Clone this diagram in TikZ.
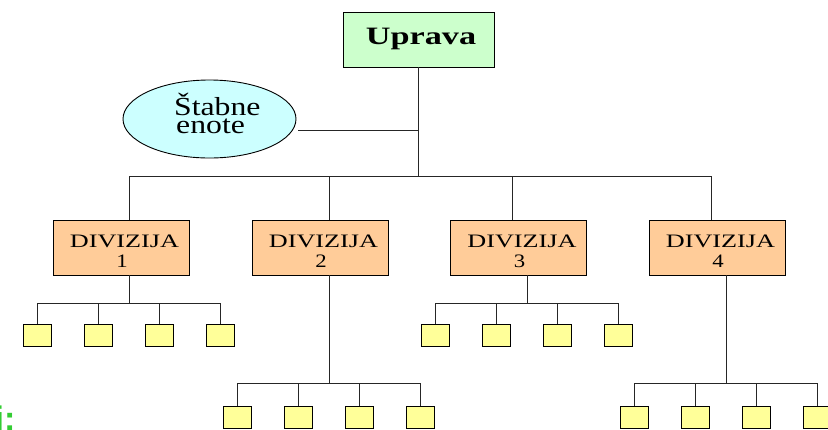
\documentclass[tikz,border=0pt]{standalone}
\usepackage{fontspec}
\usepackage{graphicx}
\setmainfont{Liberation Serif}
\newfontfamily\labelsans{Liberation Sans}
\usetikzlibrary{shapes.geometric}
\definecolor{headfill}{HTML}{CCFFCC}
\definecolor{stafffill}{HTML}{CCFFFF}
\definecolor{divfill}{HTML}{FFCC99}
\definecolor{unitfill}{HTML}{FFFF99}
\definecolor{notegreen}{HTML}{33CC33}

\begin{document}
\begin{tikzpicture}[x=1pt,y=-1pt,
  box/.style={draw=black, line width=0.9pt, inner sep=0pt},
  headbox/.style={box, fill=headfill, minimum width=151pt, minimum height=55pt},
  divbox/.style={box, fill=divfill, minimum width=136pt, minimum height=55pt},
  unit/.style={box, fill=unitfill, minimum width=28pt, minimum height=22pt},
  staff/.style={ellipse, draw=black, line width=0.9pt, fill=stafffill,
    minimum width=173pt, minimum height=78pt, inner sep=0pt},
  txt/.style={inner sep=0pt, anchor=base},
  link/.style={draw=black!85, line width=1pt}]
\useasboundingbox (0,0) rectangle (828,429);
\clip (0,0) rectangle (828,429);

% management
\node[headbox] (upr) at (418.5,39.5) {};
\node[txt] (uprt) at (421,44) {\fontsize{25}{30}\selectfont\bfseries\scalebox{1.37}[1]{Uprava}};

% staff units (two tightly set lines in one box)
\node[staff] (sta) at (209.5,119) {};
\node[txt, anchor=base west] (stt) at (174,115) {\fontsize{26}{18}\selectfont
  \vtop{\hbox{\scalebox{1.22}[1]{Štabne}}\hbox{\kern2pt\scalebox{1.22}[1]{enote}}}};

% divisions
\foreach \i/\cx in {1/121,2/320,3/518.5,4/717}{
  \node[divbox] (d\i) at (\cx,247.5) {};
  \node[txt] (dt\i) at (\cx+3.5,247) {\fontsize{19}{22}\selectfont\scalebox{1.38}[1]{DIVIZIJA}};
  \node[txt] (dn\i) at (\cx+1,267) {\fontsize{19}{22}\selectfont\scalebox{1.2}[1]{\i}};
}

% upper connectors
\coordinate (busL) at (129,176);
\coordinate (busR) at (711,176);
\coordinate (sj) at (418.5,130);
\draw[link] (upr.south) -- (upr.south |- busL);
\draw[link] ([xshift=2pt,yshift=-11pt]sta.east) -- (sj);
\draw[link] (busL) -- (busR);
\foreach \i/\x in {1/129,2/329,3/512,4/711}{
  \coordinate (t\i) at (\x,176);
  \draw[link] (t\i) -- (t\i |- d\i.north);
}

% units under each division
\foreach \i/\x/\by/\uy in {1/129/303/335,2/329/383/417,3/527/303/335,4/726/383/417}{
  \coordinate (g\i) at (\x,\by);
  \draw[link] (g\i |- d\i.south) -- (g\i);
  \foreach \k/\dx in {1/-91.5,2/-30.5,3/30.5,4/91.5}{
    \node[unit] (u\i\k) at (\x+\dx,\uy) {};
    \draw[link] (u\i\k.north |- g\i) -- (u\i\k.north);
  }
  \draw[link] (u\i1.north |- g\i) -- (u\i4.north |- g\i);
}

% caption fragment at the lower left edge
\node[anchor=base west, inner sep=0pt, text=notegreen] (note) at (-5.5,430.5)
  {\labelsans\bfseries\fontsize{34}{40}\selectfont i:};
\end{tikzpicture}
\end{document}
